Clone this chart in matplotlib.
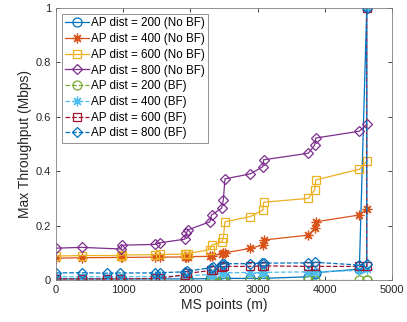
import numpy as np
import matplotlib
matplotlib.use("Agg")
import matplotlib.pyplot as plt

plt.rcParams['font.family'] = ['Liberation Sans', 'DejaVu Sans']

# MS point positions (m)
x_nobf = [0, 380, 965, 985, 1470, 1550, 1915, 1940, 1960, 2290, 2315,
          2465, 2490, 2515, 2890, 3080, 3090, 3755, 3850, 3865, 4515, 4625]
x_bf = [0, 380, 760, 955, 1480, 1550, 1920, 1950, 2300, 2330, 2475, 2505,
        2890, 3070, 3090, 3750, 3860, 4510, 4625, 4625]

# No BF throughput (Mbps)
thr_200_nobf = [0.004, 0.004, 0.004, 0.004, 0.004, 0.004, 0.004, 0.004, 0.004,
                0.005, 0.005, 0.005, 0.005, 0.006, 0.006, 0.006, 0.006,
                0.012, 0.022, 0.027, 0.040, 1.0]
thr_400_nobf = [0.080, 0.082, 0.083, 0.083, 0.084, 0.084, 0.085, 0.085, 0.086,
                0.087, 0.090, 0.095, 0.098, 0.100, 0.116, 0.129, 0.147,
                0.165, 0.190, 0.214, 0.239, 0.262]
thr_600_nobf = [0.088, 0.090, 0.090, 0.092, 0.093, 0.094, 0.095, 0.096, 0.097,
                0.112, 0.128, 0.140, 0.153, 0.214, 0.233, 0.257, 0.286,
                0.300, 0.331, 0.368, 0.407, 0.437]
thr_800_nobf = [0.117, 0.120, 0.114, 0.128, 0.131, 0.137, 0.150, 0.172, 0.184,
                0.214, 0.239, 0.264, 0.294, 0.372, 0.390, 0.417, 0.442,
                0.466, 0.496, 0.522, 0.547, 0.572]

# BF throughput (Mbps)
thr_200_bf = [0.001, 0.001, 0.001, 0.001, 0.001, 0.001, 0.001, 0.001, 0.001,
              0.001, 0.001, 0.001, 0.001, 0.001, 0.001, 0.001, 0.001, 0.001,
              0.001, 0.0]
thr_400_bf = [0.012, 0.012, 0.012, 0.012, 0.013, 0.013, 0.015, 0.016, 0.020,
              0.022, 0.026, 0.027, 0.027, 0.027, 0.028, 0.030, 0.030, 0.035,
              0.040, 1.0]
thr_600_bf = [0.004, 0.004, 0.004, 0.004, 0.006, 0.006, 0.020, 0.024, 0.035,
              0.038, 0.048, 0.050, 0.050, 0.052, 0.052, 0.050, 0.050, 0.050,
              0.050, 1.0]
thr_800_bf = [0.026, 0.027, 0.025, 0.026, 0.026, 0.027, 0.030, 0.033, 0.045,
              0.047, 0.058, 0.060, 0.060, 0.062, 0.062, 0.063, 0.065, 0.055,
              0.060, 1.0]

labels = ['AP dist = 200 (No BF)', 'AP dist = 400 (No BF)',
          'AP dist = 600 (No BF)', 'AP dist = 800 (No BF)',
          'AP dist = 200 (BF)', 'AP dist = 400 (BF)',
          'AP dist = 600 (BF)', 'AP dist = 800 (BF)']

colors = ['#0072BD', '#D95319', '#EDB120', '#7E2F8E',
          '#77AC30', '#4DBEEE', '#A2142F', '#0072BD']
# circle, asterisk, square, diamond (MATLAB style)
markers = ['o', (8, 2, 0), 's', 'D']
msizes = [6.5, 7, 6, 5.5]

fig = plt.figure(figsize=(4.07, 3.22), dpi=100)
ax = fig.add_axes([0.1376, 0.1304, 0.8254, 0.8447])

nobf = [thr_200_nobf, thr_400_nobf, thr_600_nobf, thr_800_nobf]
bf = [thr_200_bf, thr_400_bf, thr_600_bf, thr_800_bf]

for i, y in enumerate(nobf):
    ax.plot(x_nobf, y, color=colors[i], marker=markers[i], linestyle='-',
            linewidth=0.9, markersize=msizes[i], markerfacecolor='none',
            markeredgewidth=0.9, label=labels[i])
for i, y in enumerate(bf):
    ax.plot(x_bf, y, color=colors[4 + i], marker=markers[i], linestyle='--',
            linewidth=0.9, markersize=msizes[i], markerfacecolor='none',
            markeredgewidth=0.9, label=labels[4 + i])

ax.set_xlim(0, 5000)
ax.set_ylim(0, 1)
ax.set_xticks(np.arange(0, 5001, 1000))
ax.set_yticks([0, 0.2, 0.4, 0.6, 0.8, 1])
ax.set_yticklabels(['0', '0.2', '0.4', '0.6', '0.8', '1'])
ax.tick_params(direction='in', top=True, right=True, labelsize=8,
               length=3, width=0.6, colors='#262626')
for s in ax.spines.values():
    s.set_color('#808080')
    s.set_linewidth(0.6)

ax.set_xlabel('MS points (m)', fontsize=10, color='#262626', labelpad=2)
ax.set_ylabel('Max Throughput (Mbps)', fontsize=10, color='#262626', labelpad=3)

leg = ax.legend(loc='upper left', fontsize=8.4, handlelength=2.0,
                handletextpad=0.2, borderaxespad=0.5, labelspacing=0.32,
                borderpad=0.3, fancybox=False, framealpha=1)
leg.get_frame().set_edgecolor('#808080')
leg.get_frame().set_linewidth(0.6)

fig.savefig('out.png', dpi=100)
